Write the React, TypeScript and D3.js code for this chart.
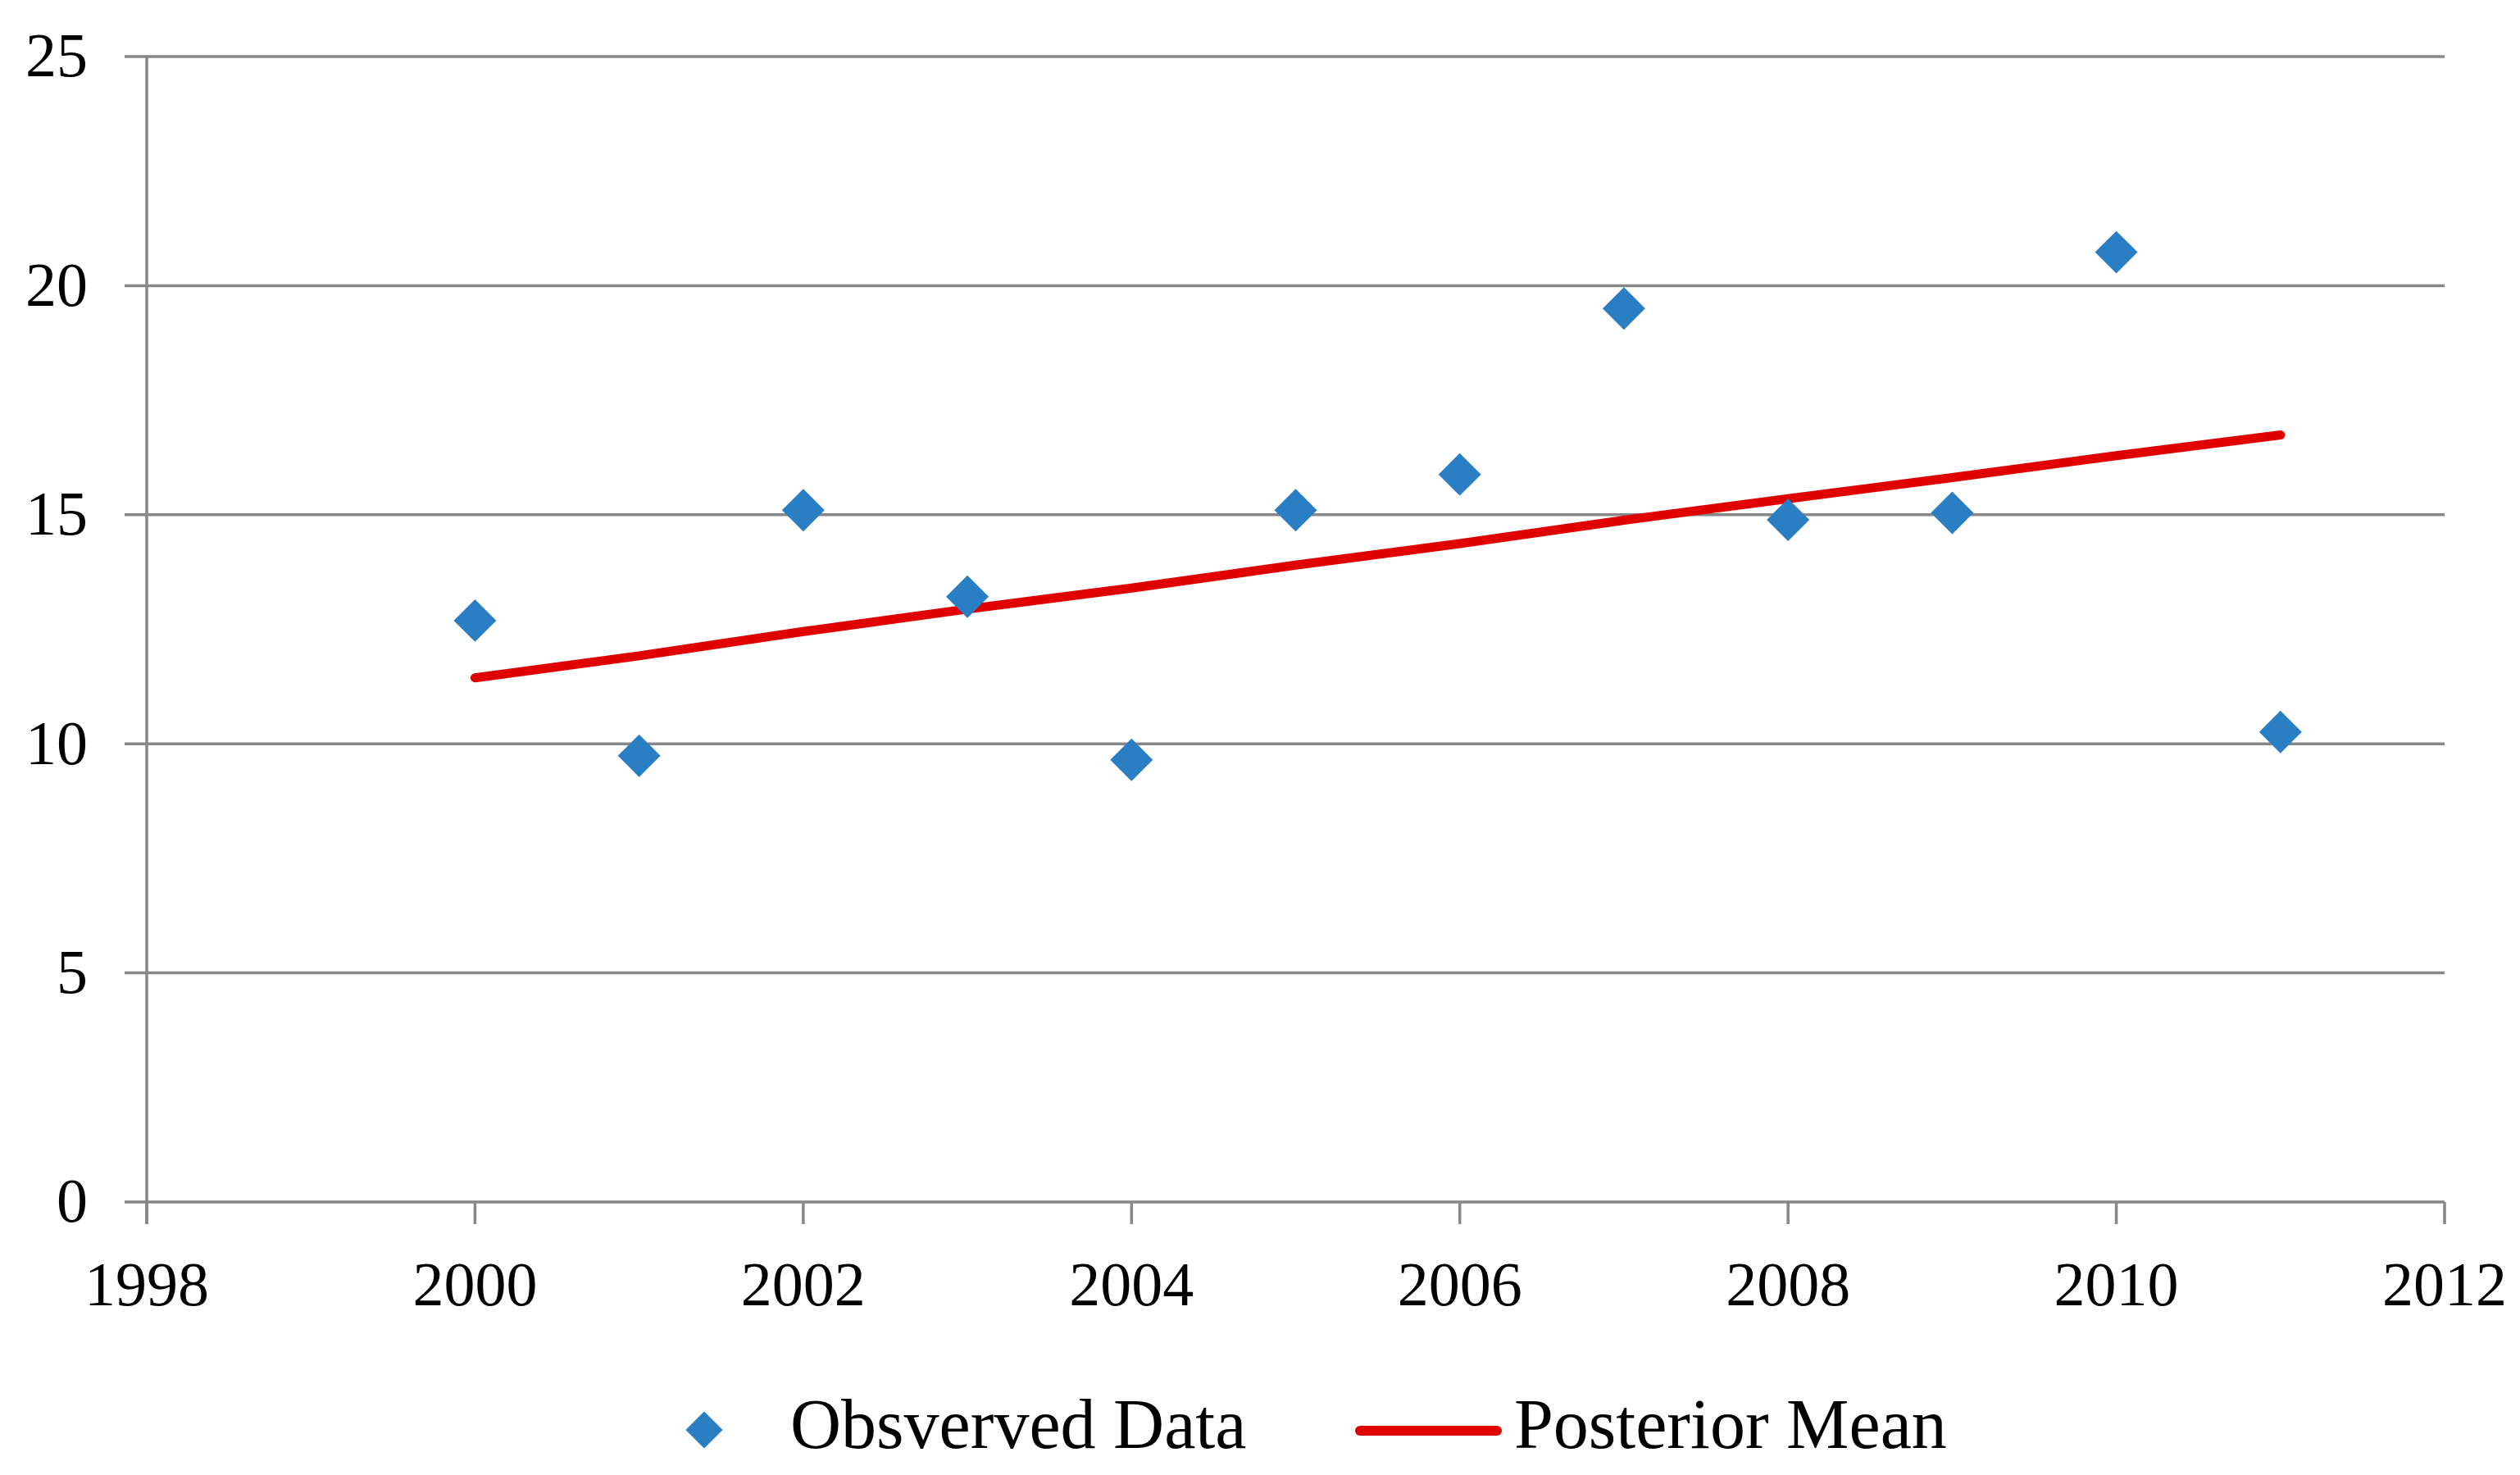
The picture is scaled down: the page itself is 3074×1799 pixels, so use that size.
import React from 'react';
import * as d3 from 'd3';

// chart data
const years = [2000, 2001, 2002, 2003, 2004, 2005, 2006, 2007, 2008, 2009, 2010, 2011];
const observed = [12.69, 9.74, 15.1, 13.21, 9.65, 15.1, 15.88, 19.5, 14.89, 15.04, 20.73, 10.26];
const posteriorMean = [11.44, 11.92, 12.45, 12.94, 13.4, 13.9, 14.37, 14.88, 15.35, 15.81, 16.29, 16.74];
const xTicks = [1998, 2000, 2002, 2004, 2006, 2008, 2010, 2012];
const yTicks = [0, 5, 10, 15, 20, 25];

const W = 3074;
const H = 1799;
const margin = { left: 179, right: 92, top: 69, bottom: 333 };
const gridColor = '#878787';
const font = '"Liberation Serif", "DejaVu Serif", serif';

const App: React.FC = () => {
  const x = d3.scaleLinear().domain([1998, 2012]).range([margin.left, W - margin.right]);
  const y = d3.scaleLinear().domain([0, 25]).range([H - margin.bottom, margin.top]);

  const line = d3
    .line<number>()
    .x((_, i) => x(years[i]))
    .y((d) => y(d));

  const diamond = d3.symbol().type(d3.symbolSquare).size(1350)()!;

  const y0 = y(0);

  return (
    <svg
      width={W}
      height={H}
      style={{ position: 'absolute', left: 0, top: 0, display: 'block', background: '#fff' }}
    >
      {/* horizontal gridlines + y ticks */}
      {yTicks.map((t) => (
        <g key={t}>
          <line x1={margin.left - 27} x2={W - margin.right} y1={y(t)} y2={y(t)} stroke={gridColor} strokeWidth={3.5} />
          <text
            x={107}
            y={y(t)}
            dy="0.32em"
            textAnchor="end"
            fontFamily={font}
            fontSize={76}
            fill="#000"
          >
            {t}
          </text>
        </g>
      ))}

      {/* y axis */}
      <line x1={margin.left} x2={margin.left} y1={margin.top} y2={y0 + 27} stroke={gridColor} strokeWidth={3.5} />

      {/* x ticks */}
      {xTicks.map((t) => (
        <g key={t}>
          <line x1={x(t)} x2={x(t)} y1={y0} y2={y0 + 27} stroke={gridColor} strokeWidth={3.5} />
          <text x={x(t)} y={y0 + 126} textAnchor="middle" fontFamily={font} fontSize={76} fill="#000">
            {t}
          </text>
        </g>
      ))}

      {/* posterior mean */}
      <path
        d={line(posteriorMean) || ''}
        fill="none"
        stroke="#e00000"
        strokeWidth={11}
        strokeLinecap="round"
        strokeLinejoin="round"
      />

      {/* observed points */}
      {observed.map((v, i) => (
        <path
          key={years[i]}
          d={diamond}
          transform={`translate(${x(years[i])},${y(v)}) rotate(45)`}
          fill="#2a7ec3"
        />
      ))}

      {/* legend */}
      <path d={diamond} transform="translate(859,1744) rotate(45) scale(0.87)" fill="#2a7ec3" />
      <text x={964} y={1766} fontFamily={font} fontSize={86} fill="#000">
        Obsverved Data
      </text>
      <line x1={1659} x2={1826} y1={1745} y2={1745} stroke="#e00000" strokeWidth={12} strokeLinecap="round" />
      <text x={1847} y={1766} fontFamily={font} fontSize={86} fill="#000">
        Posterior Mean
      </text>
    </svg>
  );
};

export default App;
